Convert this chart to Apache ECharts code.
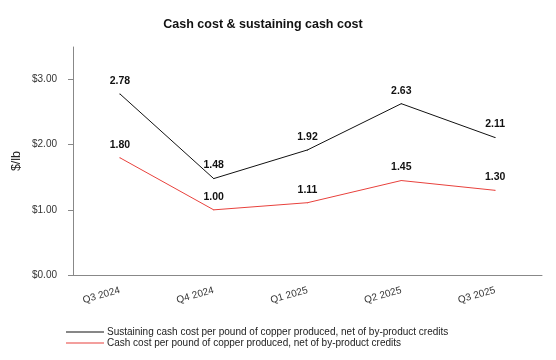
<!DOCTYPE html>
<html><head><meta charset="utf-8">
<script src="https://cdn.jsdelivr.net/npm/echarts@6/dist/echarts.min.js"></script>
<style>html,body{margin:0;padding:0;background:#fff}#c{width:556px;height:360px}</style>
</head><body><div id="c"></div>
<script>
const categories = ['Q3 2024','Q4 2024','Q1 2025','Q2 2025','Q3 2025'];
const sustaining = [2.78, 1.48, 1.92, 2.63, 2.11];
const cashCost = [1.80, 1.00, 1.11, 1.45, 1.30];
const yTicks = [0, 1, 2, 3];
const seriesNames = ['Sustaining cash cost per pound of copper produced, net of by-product credits','Cash cost per pound of copper produced, net of by-product credits'];

const chart = echarts.init(document.getElementById('c'));
const font = 'Arial, "Liberation Sans", sans-serif';
function lineSeries(name, data, color) {
  return {name: name, type: 'line', data: data, symbol: 'circle', symbolSize: 1, showSymbol: true,
    color: color, itemStyle: {color: color},
    lineStyle: {width: 1, color: color},
    label: {show: true, position: 'top', distance: 7, fontFamily: font, fontSize: 10.5, fontWeight: 'bold', color: '#111',
      formatter: p => p.value.toFixed(2)},
    labelLayout: {hideOverlap: false}};
}
chart.setOption({
  animation: false,
  title: {text: 'Cash cost & sustaining cash cost', left: 258, textAlign: 'center', top: 13,
    textStyle: {fontFamily: font, fontSize: 12.5, fontWeight: 'bold', color: '#111'}},
  grid: {left: 73, right: 14, top: 47, bottom: 85, outerBoundsMode: 'none'},
  legend: {orient: 'vertical', left: 61, top: 322, itemWidth: 38, itemHeight: 10, itemGap: 1,
    icon: 'path://M0,5L38,5L38,6L0,6Z',
    textStyle: {fontFamily: font, fontSize: 10, color: '#222', padding: [0,0,0,-2]},
    data: seriesNames},
  xAxis: {type: 'category', data: categories, boundaryGap: true,
    axisLine: {lineStyle: {color: '#888', width: 1}},
    axisTick: {alignWithLabel: true, length: 4, lineStyle: {color: '#888'}},
    axisLabel: {rotate: 16, margin: 15, fontFamily: font, fontSize: 10, color: '#333'}},
  yAxis: {type: 'value', min: 0, max: 3.5, interval: 0.5,
    name: '$/lb', nameLocation: 'middle', nameGap: 50, nameRotate: 90, nameMoveOverlap: false,
    nameTextStyle: {fontFamily: font, fontSize: 12.5, color: '#222'},
    axisLine: {show: true, lineStyle: {color: '#888', width: 1}},
    axisTick: {show: true, length: 5, customValues: yTicks, lineStyle: {color: '#888'}},
    splitLine: {show: false},
    axisLabel: {customValues: yTicks, margin: 16, fontFamily: font, fontSize: 10, color: '#333',
      formatter: v => '$' + v.toFixed(2)}},
  series: [
    lineSeries(seriesNames[0], sustaining, '#111'),
    lineSeries(seriesNames[1], cashCost, '#e8413c')
  ]
});
</script></body></html>
